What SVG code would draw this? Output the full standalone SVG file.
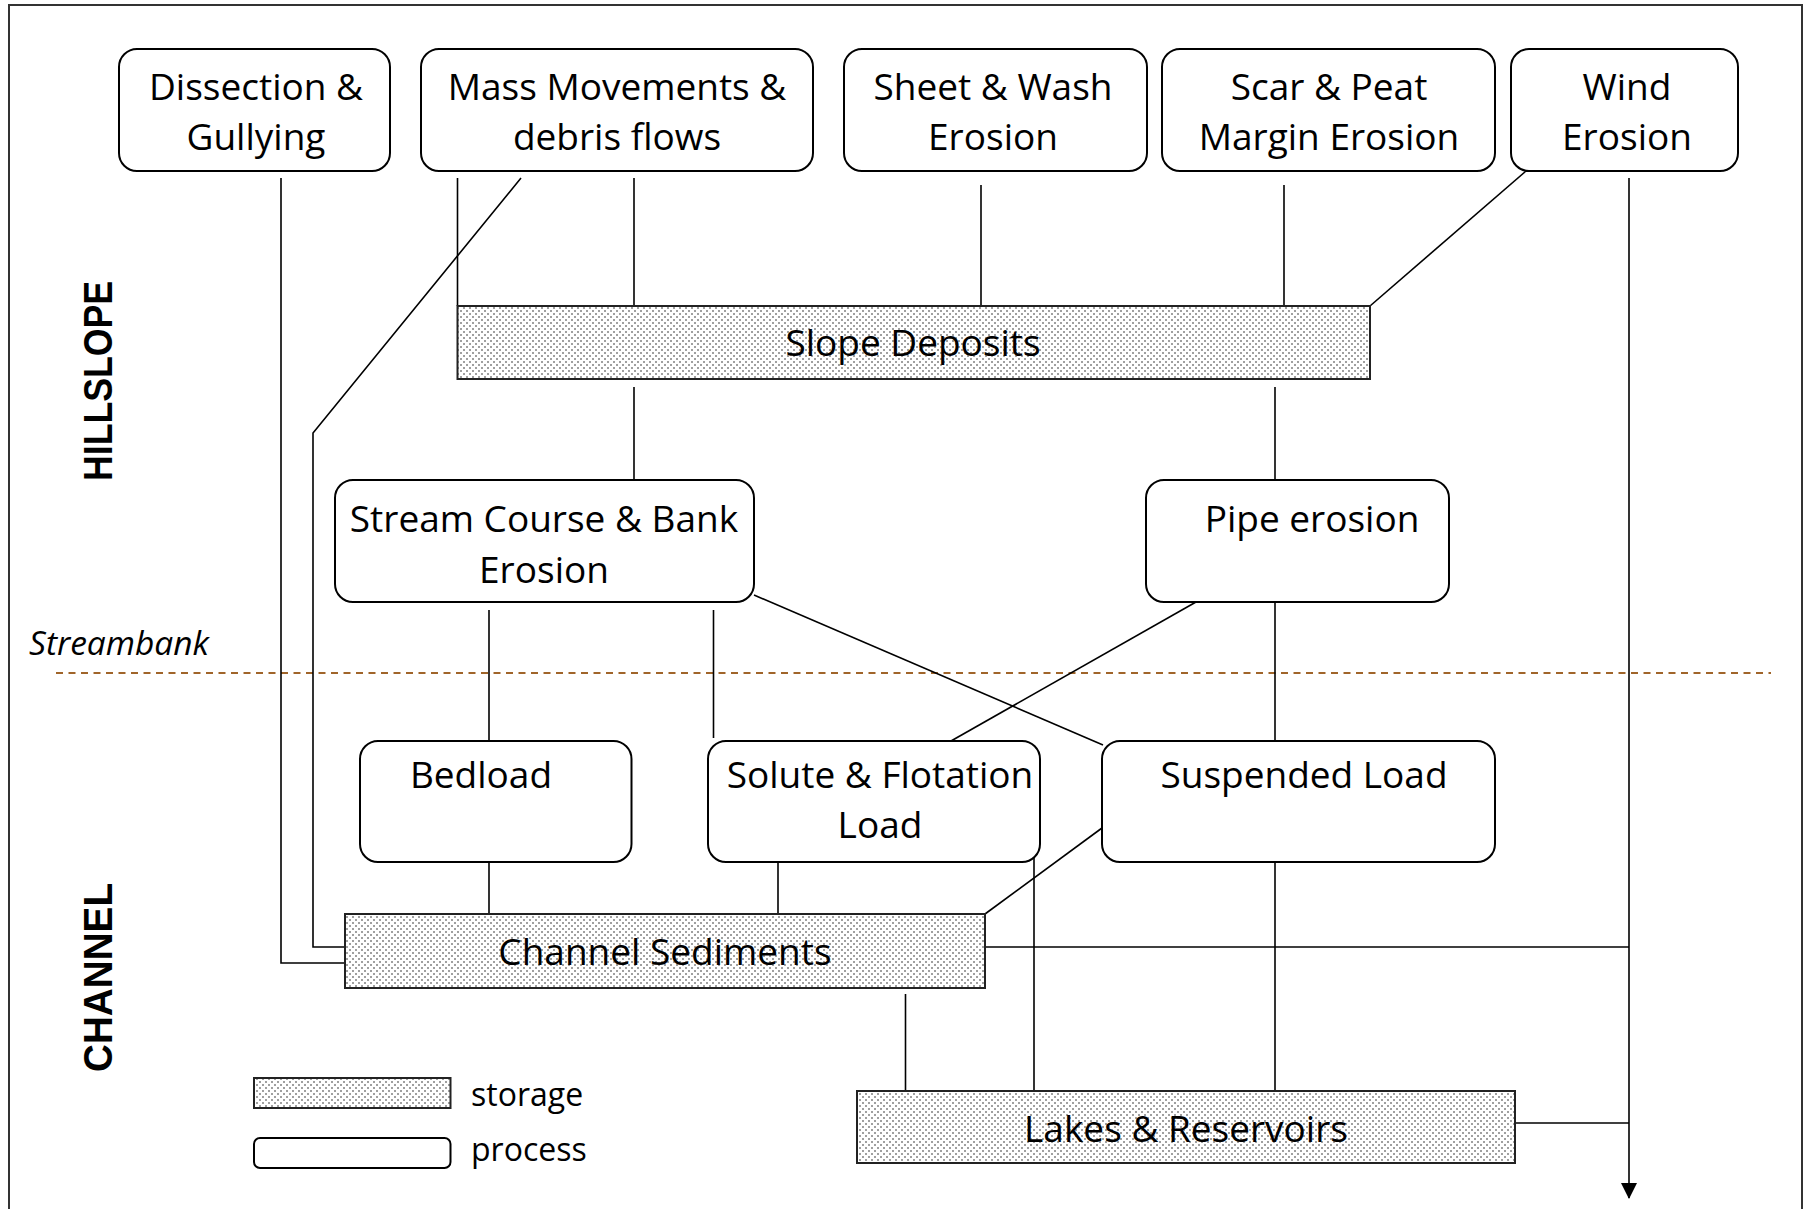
<svg xmlns="http://www.w3.org/2000/svg" width="1805" height="1209" viewBox="0 0 1805 1209">
<style>
.proc{fill:#fff;stroke:#000;stroke-width:2}
.stor{fill:url(#dots);stroke:#222;stroke-width:2}
.t{font-family:"Open Sans","Liberation Sans",sans-serif;font-size:37px;fill:#000;text-anchor:middle}
.lg{font-family:"Open Sans","Liberation Sans",sans-serif;font-size:32px;fill:#000}
.zone{font-family:"Liberation Sans",Arial,sans-serif;font-size:40px;font-weight:bold;fill:#000;text-anchor:middle}
.c{fill:none;stroke:#000;stroke-width:1.6}
</style>
<defs>
<pattern id="dots" width="6" height="6" patternUnits="userSpaceOnUse">
<rect width="6" height="6" fill="#fff"/>
<rect x="1" y="1" width="2" height="2" fill="#a0a0a0"/>
<rect x="4" y="4" width="2" height="2" fill="#a0a0a0"/>
</pattern>
<marker id="arr" markerWidth="16" markerHeight="16" refX="15" refY="8" orient="auto" markerUnits="userSpaceOnUse" viewBox="0 0 16 16">
<path d="M0,0 L16,8 L0,16 Z" fill="#000"/>
</marker>
</defs>
<rect x="9" y="5" width="1793" height="1212" fill="#fff" stroke="#333" stroke-width="2"/>

<text class="zone" transform="translate(112,381) rotate(-90)" textLength="200" lengthAdjust="spacingAndGlyphs">HILLSLOPE</text>
<text class="zone" transform="translate(112,977.5) rotate(-90)" textLength="189" lengthAdjust="spacingAndGlyphs">CHANNEL</text>
<text x="29" y="655" font-family="'Open Sans','Liberation Sans',sans-serif" font-size="33.5" font-style="italic" fill="#000">Streambank</text>
<line x1="56" y1="673" x2="1771" y2="673" stroke="#a0652a" stroke-width="2" stroke-dasharray="7,5.5"/>

<g id="connectors">
<polyline class="c" points="281,178 281,963 345,963"/>
<polyline class="c" points="521,178 313,433 313,947 345,947"/>
<line class="c" x1="457.5" y1="178" x2="457.5" y2="306"/>
<line class="c" x1="634" y1="178" x2="634" y2="306"/>
<line class="c" x1="981" y1="185" x2="981" y2="313"/>
<line class="c" x1="1284" y1="185" x2="1284" y2="313"/>
<line class="c" x1="1526" y1="171" x2="1370" y2="306"/>
<line class="c" x1="1629" y1="178" x2="1629" y2="1198" marker-end="url(#arr)"/>
<line class="c" x1="634" y1="387" x2="634" y2="482"/>
<line class="c" x1="1275" y1="387" x2="1275" y2="480"/>
<line class="c" x1="489" y1="610" x2="489" y2="741"/>
<line class="c" x1="713.5" y1="610" x2="713.5" y2="738"/>
<line class="c" x1="754" y1="595" x2="1103" y2="745"/>
<line class="c" x1="1196" y1="602" x2="951" y2="741"/>
<line class="c" x1="1275" y1="602" x2="1275" y2="741"/>
<line class="c" x1="489" y1="862" x2="489" y2="914"/>
<line class="c" x1="778" y1="862" x2="778" y2="914"/>
<line class="c" x1="1102" y1="828" x2="985" y2="914"/>
<line class="c" x1="1034" y1="846" x2="1034" y2="1091"/>
<line class="c" x1="1275" y1="862" x2="1275" y2="1091"/>
<line class="c" x1="905.5" y1="994" x2="905.5" y2="1091"/>
<line class="c" x1="985" y1="947" x2="1629" y2="947" stroke-width="2"/>
<line class="c" x1="1515" y1="1123" x2="1629" y2="1123" stroke-width="2"/>
</g>

<g id="dissection"><rect class="proc" x="119" y="49" width="271" height="122" rx="18"/>
<text class="t" x="256" y="100">Dissection &amp;</text><text class="t" x="256" y="150">Gullying</text></g>
<g id="mass"><rect class="proc" x="421" y="49" width="392" height="122" rx="18"/>
<text class="t" x="617" y="100">Mass Movements &amp;</text><text class="t" x="617" y="150">debris flows</text></g>
<g id="sheet"><rect class="proc" x="844" y="49" width="303" height="122" rx="18"/>
<text class="t" x="993" y="100">Sheet &amp; Wash</text><text class="t" x="993" y="150">Erosion</text></g>
<g id="scar"><rect class="proc" x="1162" y="49" width="333" height="122" rx="18"/>
<text class="t" x="1329" y="100">Scar &amp; Peat</text><text class="t" x="1329" y="150">Margin Erosion</text></g>
<g id="wind"><rect class="proc" x="1511" y="49" width="227" height="122" rx="18"/>
<text class="t" x="1627" y="100">Wind</text><text class="t" x="1627" y="150">Erosion</text></g>

<g id="slope"><rect class="stor" x="457.5" y="306" width="912.5" height="73"/>
<text class="t" x="913" y="356">Slope Deposits</text></g>

<g id="stream"><rect class="proc" x="335" y="480" width="419" height="122" rx="18"/>
<text class="t" x="544" y="532">Stream Course &amp; Bank</text><text class="t" x="544" y="583">Erosion</text></g>
<g id="pipe"><rect class="proc" x="1146" y="480" width="303" height="122" rx="18"/>
<text class="t" x="1312" y="532">Pipe erosion</text></g>

<g id="bedload"><rect class="proc" x="360" y="741" width="271.5" height="121" rx="18"/>
<text class="t" x="481" y="788">Bedload</text></g>
<g id="solute"><rect class="proc" x="708" y="741" width="332" height="121" rx="18"/>
<text class="t" x="880" y="788">Solute &amp; Flotation</text><text class="t" x="880" y="838">Load</text></g>
<g id="suspended"><rect class="proc" x="1102" y="741" width="393" height="121" rx="18"/>
<text class="t" x="1304" y="788">Suspended Load</text></g>

<g id="channel"><rect class="stor" x="345" y="914" width="640" height="74"/>
<text class="t" x="665" y="965">Channel Sediments</text></g>
<g id="lakes"><rect class="stor" x="857" y="1091" width="658" height="72"/>
<text class="t" x="1186" y="1142">Lakes &amp; Reservoirs</text></g>

<g id="legend">
<rect class="stor" x="254" y="1078" width="196.5" height="30"/>
<text class="lg" x="471" y="1106">storage</text>
<rect class="proc" x="254" y="1138" width="196.5" height="30" rx="6"/>
<text class="lg" x="471" y="1161">process</text>
</g>
</svg>
